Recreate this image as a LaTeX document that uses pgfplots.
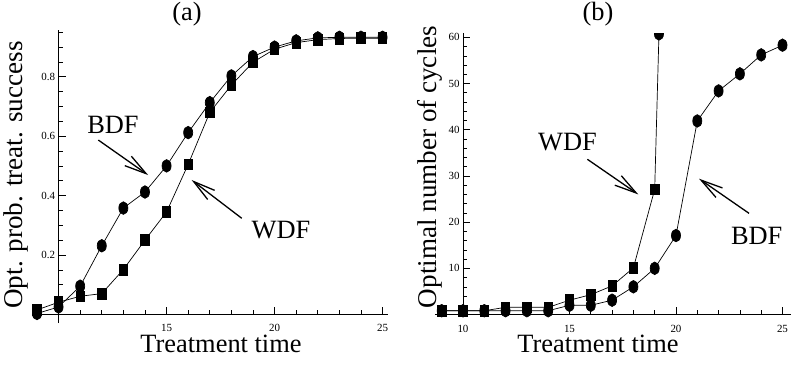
\documentclass[border=0pt]{standalone}
\usepackage{pgfplots}
\pgfplotsset{compat=1.18}
\usepackage{fontspec}
\setmainfont{Liberation Serif}
\usetikzlibrary{arrows.meta}
\newcommand\bigf{\fontsize{26.5}{30}\selectfont}
\newcommand\ylf{\fontsize{27.2}{30}\selectfont}
\tikzset{ann/.style={line width=1.3bp, -{Straight Barb[length=22bp,width=11.5bp,line width=1.3bp]}}}
\begin{document}
\begin{tikzpicture}
\pgfplotsset{
  myaxis/.style={
    axis lines=left,
    axis line style={-, line width=0.8bp},
    tick align=inside,
    major tick length=7bp, minor tick length=4bp,
    every tick/.style={line width=0.6bp, black},
    tick label style={font=\fontsize{11}{12}\selectfont},
    xticklabel style={inner sep=0.5bp, yshift=-9.6bp},
    /pgf/number format/assume math mode=true,
  },
  bdf/.style={black, line width=0.7bp, mark=*, mark size=6.3bp, mark options={solid, fill=black, xscale=0.72}},
  wdf/.style={black, line width=0.7bp, mark=square*, mark size=5.4bp, mark options={solid, fill=black, xscale=0.77}},
}
\begin{axis}[myaxis, x=21.6bp, y=297bp, xmin=8.77, xmax=25.25, ymin=-0.029, ymax=0.957,
  axis y line shift=-26.57bp, axis x line shift=-8.6bp,
  xtick={15,20,25}, xticklabels={15,20,25},
  minor xtick={9,11,12,13,14,16,17,18,19,21,22,23,24},
  ytick={0.2,0.4,0.6,0.8}, yticklabels={0.2,0.4,0.6,0.8},
  minor ytick={0.05,0.1,0.15,0.25,0.3,0.35,0.45,0.5,0.55,0.65,0.7,0.75,0.85,0.9,0.95},
  ]
\addplot[wdf] coordinates {(9,0.015) (10,0.041) (11,0.061) (12,0.07) (13,0.151) (14,0.25) (15,0.345) (16,0.505) (17,0.68) (18,0.772) (19,0.849) (20,0.893) (21,0.915) (22,0.925) (23,0.929) (24,0.93) (25,0.93)};
\addplot[bdf] coordinates {(9,0.003) (10,0.025) (11,0.095) (12,0.231) (13,0.358) (14,0.412) (15,0.5) (16,0.612) (17,0.713) (18,0.803) (19,0.868) (20,0.90) (21,0.921) (22,0.931) (23,0.933) (24,0.933) (25,0.933)};
\node[font=\bigf] at (axis cs:12.52,0.638) {BDF};
\node[font=\bigf] at (axis cs:20.3,0.2825) {WDF};
\draw[ann] (axis cs:11.84,0.587) -- (axis cs:14.15,0.469);
\draw[ann] (axis cs:18.48,0.3236) -- (axis cs:16.16,0.4525);
\end{axis}
\begin{axis}[myaxis, at={(403.3bp,5.7bp)}, anchor=south west,
  x=21.3bp, y=4.62bp, xmin=8.7, xmax=25.45, ymin=-0.6, ymax=60.9,
  axis y line shift=-27.7bp, axis x line shift=-2.8bp,
  clip marker paths=true,
  xtick={10,15,20,25}, xticklabels={10,15,20,25},
  minor xtick={9,11,12,13,14,16,17,18,19,21,22,23,24},
  ytick={10,20,30,40,50,60}, yticklabels={10,20,30,40,50,60},
  minor ytick={2,4,6,8,12,14,16,18,22,24,26,28,32,34,36,38,42,44,46,48,52,54,56,58},
  ]
\addplot[wdf] coordinates {(9,0.82) (10,0.82) (11,0.82) (12,1.56) (13,1.56) (14,1.56) (15,3.1) (16,4.3) (17,6.2) (18,10.1) (19,27.1)};
\addplot[bdf, mark indices={2}] coordinates {(19,27.1) (19.2,60.75)};
\addplot[bdf] coordinates {(9,0.82) (10,0.82) (11,0.82) (12,0.82) (13,0.82) (14,0.82) (15,2.0) (16,2.0) (17,3.1) (18,6.0) (19,10.0) (20,17.1) (21,41.9) (22,48.4) (23,52.1) (24,56.2) (25,58.3)};
\node[font=\bigf] at (axis cs:14.91,37.4) {WDF};
\node[font=\bigf] at (axis cs:23.79,17.1) {BDF};
\draw[ann] (axis cs:15.84,33.6) -- (axis cs:18.23,26.0);
\draw[ann] (axis cs:23.43,21.9) -- (axis cs:21.08,29.4);
\end{axis}
\node[font=\bigf, anchor=base] at (155bp,302.5bp) {(a)};
\node[font=\bigf, anchor=base] at (566bp,302.5bp) {(b)};
\node[font=\bigf, anchor=base, inner sep=0pt] at (189bp,-29.7bp) {Treatment time};
\node[font=\bigf, anchor=base, inner sep=0pt] at (566bp,-29.7bp) {Treatment time};
\node[font=\ylf, anchor=base, rotate=90] at (-9.5bp,148bp) {Opt. prob. treat. success};
\node[font=\ylf, anchor=base, rotate=90] at (404bp,156bp) {Optimal number of cycles};
\pgfresetboundingbox
\useasboundingbox (-32bp,-43bp) rectangle (759bp,323bp);
\end{tikzpicture}
\end{document}
